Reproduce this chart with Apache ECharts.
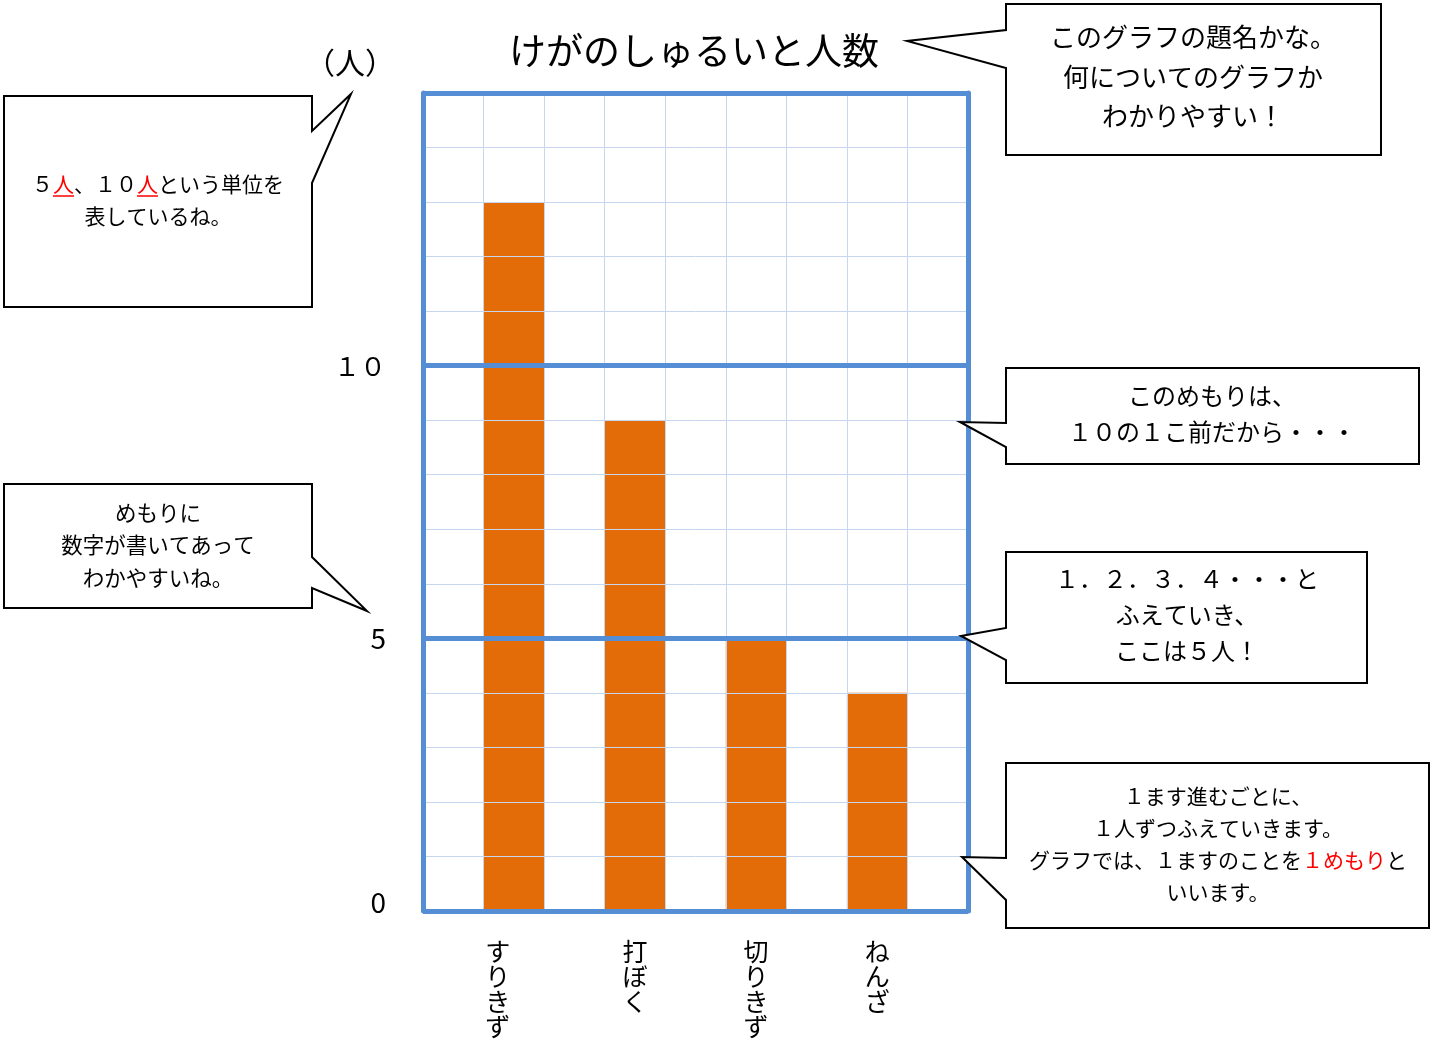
<!DOCTYPE html>
<html><head><meta charset="utf-8">
<script src="https://cdn.jsdelivr.net/npm/echarts@6/dist/echarts.min.js"></script>
<style>html,body{margin:0;padding:0;background:#fff}#c{width:1430px;height:1048px}</style>
</head><body><div id="c"></div>
<script>
const categories = ['すりきず', '打ぼく', '切りきず', 'ねんざ'];
const values = [13, 9, 5, 4];
const yTickLabels = {0: '0', 5: '5', 10: '１０'};
const titleText = 'けがのしゅるいと人数';
const unitText = '（人）';

const FONT = '"Noto Sans CJK JP", "Noto Sans", sans-serif';
const BLUE = '#558ED5';
const LIGHT = '#C6D6EE';
const ORANGE = '#E36C09';

// 9 slots: blank column between each bar
const slots = [], slotValues = [];
categories.forEach((c, i) => { slots.push(''); slotValues.push(null); slots.push(c); slotValues.push(values[i]); });
slots.push(''); slotValues.push(null);

function callout(points) {
  return {type: 'polygon', z: 100, shape: {points: points},
    style: {fill: '#fff', stroke: '#000', lineWidth: 2}};
}
function ctext(x, y, text, size, lh) {
  return {type: 'text', z: 101, x: x, y: y,
    style: {text: text, fill: '#000', font: size + 'px ' + FONT,
      align: 'center', verticalAlign: 'middle', lineHeight: lh,
      rich: {r: {fill: '#FF0000', fontSize: size, fontFamily: FONT, lineHeight: lh}}}};
}
function uline(x1, x2, y) {
  return {type: 'line', z: 102, shape: {x1: x1, y1: y, x2: x2, y2: y}, style: {stroke: '#FF0000', lineWidth: 1.5}};
}

const chart = echarts.init(document.getElementById('c'));
chart.setOption({
  animation: false,
  backgroundColor: '#fff',
  textStyle: {fontFamily: FONT},
  title: {text: titleText, left: 504, top: 27,
    textStyle: {fontFamily: FONT, fontSize: 37, fontWeight: 'normal', color: '#000'}},
  grid: {left: 423, top: 93, right: 462, bottom: 137},
  xAxis: {
    type: 'category', data: slots, boundaryGap: true, z: 4,
    axisLine: {show: false}, axisTick: {show: false},
    splitLine: {show: true, interval: 0, lineStyle: {color: LIGHT, width: 1}},
    axisLabel: {interval: 0, margin: 28, fontSize: 25, lineHeight: 25, color: '#000',
      verticalAlign: 'top', fontFamily: FONT,
      formatter: (v, idx) => idx === 1
        ? v.split('').map(ch => '{s|' + ch + '}').join('\n')
        : v.split('').join('\n'),
      rich: {s: {fontSize: 25, lineHeight: 25, fontFamily: FONT, color: '#000', padding: [0, 32, 0, 0]}}}
  },
  yAxis: [{
    type: 'value', min: 0, max: 15, interval: 1, position: 'left', z: 5,
    name: unitText, nameLocation: 'end', nameGap: 15,
    nameTextStyle: {fontSize: 30, color: '#000', align: 'right', verticalAlign: 'bottom',
      padding: [0, 28, 0, 0], fontFamily: FONT},
    axisLine: {show: true, lineStyle: {color: BLUE, width: 5}},
    axisTick: {show: false},
    splitLine: {show: true, lineStyle: {color: LIGHT, width: 1}},
    axisLabel: {margin: 37, fontSize: 28, color: '#000', fontFamily: FONT,
      formatter: v => v === 0 ? '{z|0}' : (v === 10 ? '{t|' + yTickLabels[v] + '}' : (yTickLabels[v] || '')),
      rich: {z: {fontSize: 28, fontFamily: FONT, color: '#000', padding: [0, 0, 18, 0]},
             t: {fontSize: 26, fontFamily: FONT, color: '#000', padding: [0, 0, 0, 0]}}}
  }, {
    type: 'value', min: 0, max: 15, interval: 5, position: 'right', z: 6,
    axisLine: {show: true, lineStyle: {color: BLUE, width: 5}},
    axisTick: {show: false}, axisLabel: {show: false},
    splitLine: {show: true, lineStyle: {color: BLUE, width: 5}}
  }],
  series: [{
    type: 'bar', data: slotValues, yAxisIndex: 0, barCategoryGap: 0, barWidth: '100%',
    itemStyle: {color: ORANGE}, z: 2
  }],
  graphic: [
    callout([[4,96],[312,96],[312,131],[351,94],[312,183],[312,307],[4,307]]),
    ctext(158, 200, '５{r|人}、１０{r|人}という単位を\n表しているね。', 21, 32),
    uline(53, 74, 196), uline(137, 158, 196),
    callout([[1006,4],[1381,4],[1381,155],[1006,155],[1006,68],[907,41],[1006,30]]),
    ctext(1193, 77, 'このグラフの題名かな。\n何についてのグラフか\nわかりやすい！', 26, 39.5),
    callout([[1006,368],[1419,368],[1419,464],[1006,464],[1006,447],[960,422],[1006,423]]),
    ctext(1212, 414, 'このめもりは、\n１０の１こ前だから・・・', 24, 36),
    callout([[1006,552],[1367,552],[1367,683],[1006,683],[1006,660],[961,636],[1006,628]]),
    ctext(1187, 615, '１．２．３．４・・・と\nふえていき、\nここは５人！', 24, 36),
    callout([[1006,763],[1429,763],[1429,928],[1006,928],[1006,900],[962,857],[1006,858]]),
    ctext(1218, 844, '１ます進むごとに、\n１人ずつふえていきます。\nグラフでは、１ますのことを{r|１めもり}と\nいいます。', 21, 32),
    callout([[4,484],[312,484],[312,557],[367,611],[312,588],[312,608],[4,608]]),
    ctext(158, 545, 'めもりに\n数字が書いてあって\nわかやすいね。', 21.5, 32.5)
  ]
});
</script></body></html>
